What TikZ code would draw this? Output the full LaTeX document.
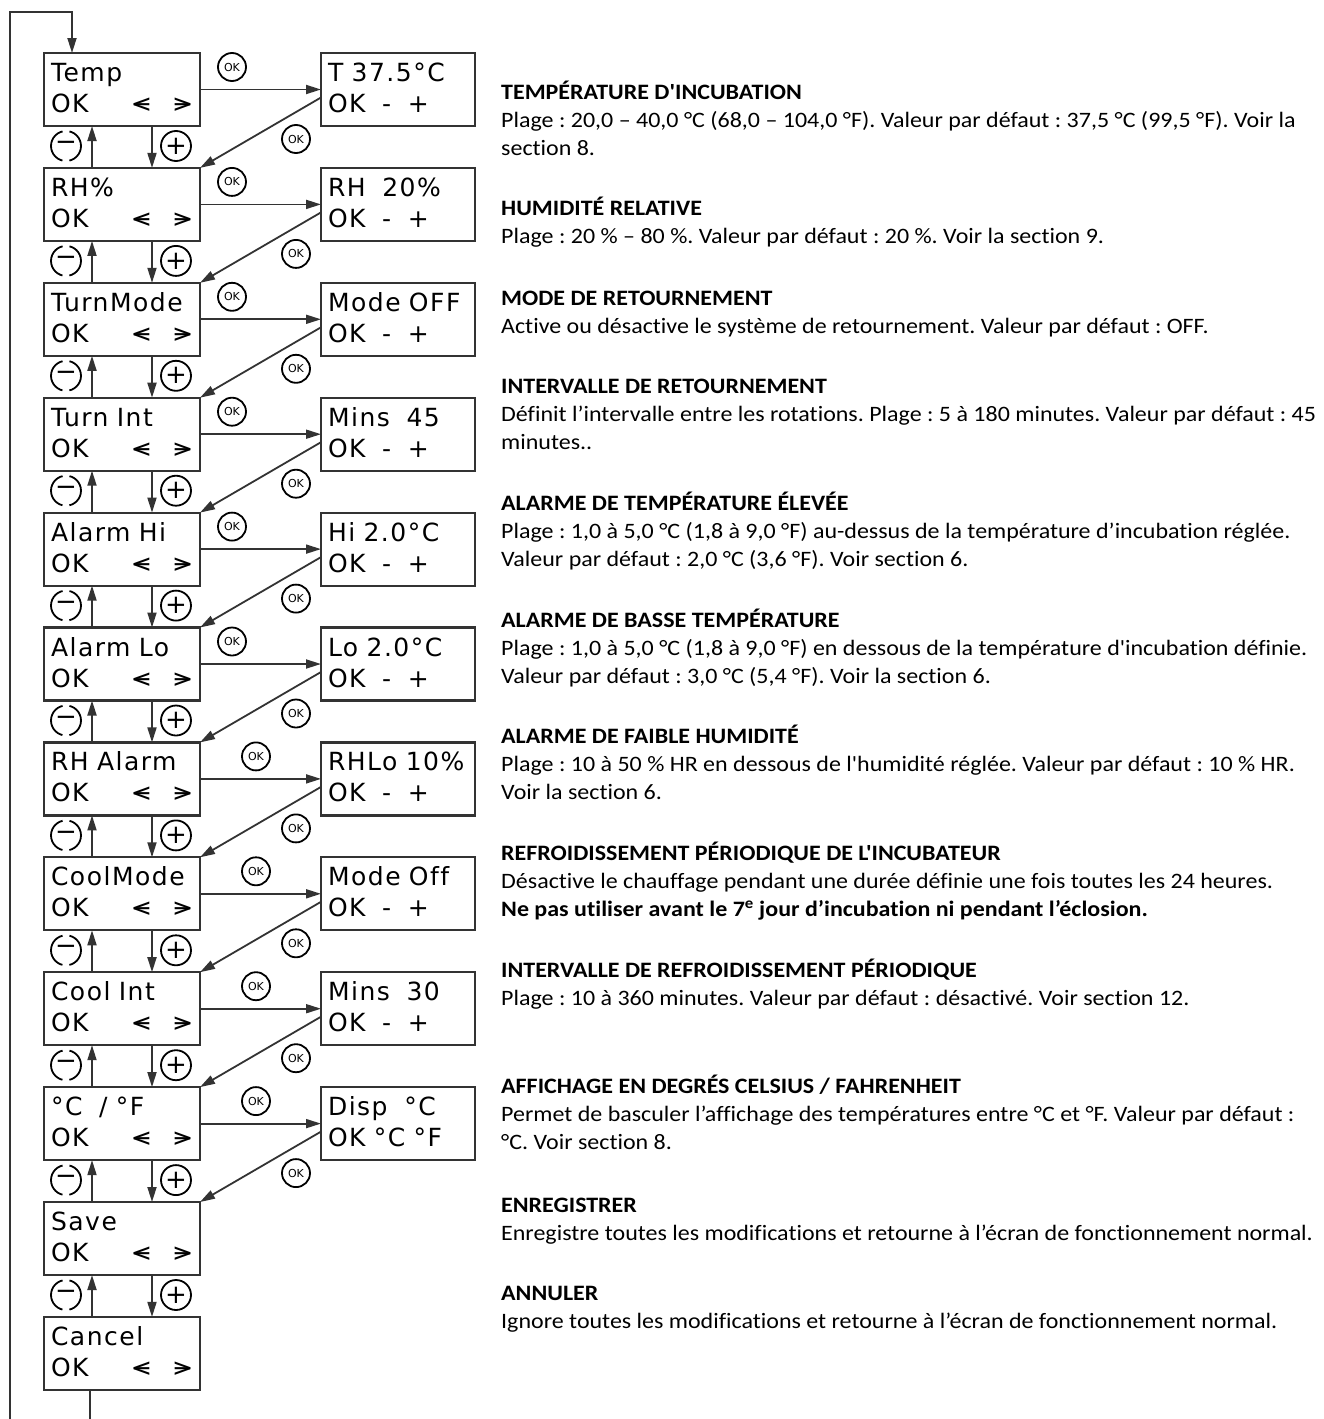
\documentclass[tikz,border=0pt]{standalone}
\usepackage{fontspec}
\newfontfamily\lcdfont{DejaVu Sans}[LetterSpace=6, Ligatures=CommonOff]
\newfontfamily\keyfont{DejaVu Sans}
\newfontfamily\descfont{Carlito}[FakeStretch=1.09, Ligatures=CommonOff]
\usetikzlibrary{arrows.meta,positioning}
\definecolor{frame}{HTML}{333333}
\newcommand\lcdstrut{\rule[-6pt]{0pt}{27pt}}
\newcommand\leftkey{\makebox[0pt][l]{<}−}
\newcommand\rightkey{\makebox[0pt][l]{−}>}
\newcommand\navline{OK\hfill\leftkey\hspace{20pt}\rightkey}
\newcommand\setline{OK\ \ -\ \ +}
\tikzset{
  menu/.style = {draw=frame, line width=2.2pt, rectangle, outer sep=0pt, minimum width=156pt, minimum height=73pt, text width=142pt, inner xsep=7pt, inner ysep=7pt, align=left, font=\lcdfont\fontsize{25}{31}\selectfont, execute at begin node=\lcdstrut, execute at end node=\lcdstrut},
  value/.style = {menu, minimum width=154pt, text width=140pt},
  okbtn/.style = {draw=black, line width=1.8pt, circle, minimum size=28pt, inner sep=0pt, font=\keyfont\fontsize{11}{11}\selectfont},
  plusbtn/.style = {draw=black, line width=1.8pt, circle, minimum size=30pt, inner sep=0pt, font=\keyfont\fontsize{26}{26}\selectfont},
  minusbtn/.style = {plusbtn, dash pattern=on 40pt off 7pt, dash phase=20pt},
  desc/.style = {anchor=base west, inner sep=0pt, align=left, font=\descfont\fontsize{22}{28}\selectfont},
  arrow/.style = {line width=1.8pt, draw=frame, -{Triangle[length=15pt,width=9pt]}}
}
\begin{document}
\frenchspacing
\begin{tikzpicture}[x=1pt, y=-1pt]
  \useasboundingbox (0,0) rectangle (1323,1419);

  % menu column
  \node[menu, anchor=north west] (temp) at (44,53) {Temp\\\navline};
  \node[menu, below=41.9pt of temp] (rh) {RH\%\\\navline};
  \node[menu, below=41.9pt of rh] (turnmode) {TurnMode\\\navline};
  \node[menu, below=41.9pt of turnmode] (turnint) {Turn Int\\\navline};
  \node[menu, below=41.9pt of turnint] (alarmhi) {Alarm Hi\\\navline};
  \node[menu, below=41.9pt of alarmhi] (alarmlo) {Alarm Lo\\\navline};
  \node[menu, below=41.9pt of alarmlo] (rhalarm) {RH Alarm\\\navline};
  \node[menu, below=41.9pt of rhalarm] (coolmode) {CoolMode\\\navline};
  \node[menu, below=41.9pt of coolmode] (coolint) {Cool Int\\\navline};
  \node[menu, below=41.9pt of coolint] (unit) {°C\ \ /\ °F\\\navline};
  \node[menu, below=41.9pt of unit] (save) {Save\\\navline};
  \node[menu, below=41.9pt of save] (cancel) {Cancel\\\navline};

  % value screens
  \node[value, right=121pt of temp] (temp-v) {T 37.5°C\\\setline};
  \node[value, right=121pt of rh] (rh-v) {RH\ \ 20\%\\\setline};
  \node[value, right=121pt of turnmode] (turnmode-v) {Mode OFF\\\setline};
  \node[value, right=121pt of turnint] (turnint-v) {Mins\ \ 45\\\setline};
  \node[value, right=121pt of alarmhi] (alarmhi-v) {Hi 2.0°C\\\setline};
  \node[value, right=121pt of alarmlo] (alarmlo-v) {Lo 2.0°C\\\setline};
  \node[value, right=121pt of rhalarm] (rhalarm-v) {RHLo 10\%\\\setline};
  \node[value, right=121pt of coolmode] (coolmode-v) {Mode Off\\\setline};
  \node[value, right=121pt of coolint] (coolint-v) {Mins\ \ 30\\\setline};
  \node[value, right=121pt of unit] (unit-v) {Disp\ \ °C\\OK °C °F};

  % - / + keys between screens
  \foreach \a/\b in {temp/rh, rh/turnmode, turnmode/turnint, turnint/alarmhi, alarmhi/alarmlo, alarmlo/rhalarm, rhalarm/coolmode, coolmode/coolint, coolint/unit, unit/save, save/cancel} {
    \draw[arrow] ([xshift=108pt]\a.south west) -- ([xshift=108pt]\b.north west);
    \draw[arrow] ([xshift=48pt]\b.north west) -- ([xshift=48pt]\a.south west);
    \node[minusbtn] (minus-\a) at ([xshift=22pt, yshift=-20pt]\a.south west) {−};
    \node[plusbtn] (plus-\a) at ([xshift=132pt, yshift=-20pt]\a.south west) {+};
  }

  % OK into the value screen and back
  \foreach \a/\b/\s in {temp/rh/32pt, rh/turnmode/32pt, turnmode/turnint/32pt, turnint/alarmhi/32pt, alarmhi/alarmlo/32pt, alarmlo/rhalarm/32pt, rhalarm/coolmode/56pt, coolmode/coolint/56pt, coolint/unit/56pt, unit/save/56pt} {
    \draw[arrow] (\a.east) -- (\a-v.west);
    \draw[arrow] ([yshift=-8pt]\a-v.west) -- (\b.north east);
    \node[okbtn] (ok-\a) at ([xshift=\s, yshift=-14pt]\a.north east) {OK};
    \node[okbtn] (back-\a) at ([xshift=-25pt, yshift=-13pt]\a-v.south west) {OK};
  }

  % wrap round from Cancel to Temp
  \coordinate (exit) at (90,1419);
  \coordinate (ret) at (10,1419);
  \coordinate (corner) at (10,12);
  \draw[line width=1.8pt, draw=frame] (cancel.south -| exit) -- (exit);
  \draw[arrow] (ret) -- (corner) -| ([xshift=28pt]temp.north west);

  % descriptions (anchored on the last line)
  \node[desc] (d-temp) at (501,155) {\textbf{TEMPÉRATURE D'INCUBATION}\\Plage : 20,0 – 40,0 °C (68,0 – 104,0 °F). Valeur par défaut : 37,5 °C (99,5 °F). Voir la\\section 8.};
  \node[desc] (d-rh) at (501,243) {\textbf{HUMIDITÉ RELATIVE}\\Plage : 20 \% – 80 \%. Valeur par défaut : 20 \%. Voir la section 9.};
  \node[desc] (d-turnmode) at (501,333) {\textbf{MODE DE RETOURNEMENT}\\Active ou désactive le système de retournement. Valeur par défaut : OFF.};
  \node[desc] (d-turnint) at (501,449) {\textbf{INTERVALLE DE RETOURNEMENT}\\Définit l’intervalle entre les rotations. Plage : 5 à 180 minutes. Valeur par défaut : 45\\minutes..};
  \node[desc] (d-alarmhi) at (501,566) {\textbf{ALARME DE TEMPÉRATURE ÉLEVÉE}\\Plage : 1,0 à 5,0 °C (1,8 à 9,0 °F) au-dessus de la température d’incubation réglée.\\Valeur par défaut : 2,0 °C (3,6 °F). Voir section 6.};
  \node[desc] (d-alarmlo) at (501,683) {\textbf{ALARME DE BASSE TEMPÉRATURE}\\Plage : 1,0 à 5,0 °C (1,8 à 9,0 °F) en dessous de la température d'incubation définie.\\Valeur par défaut : 3,0 °C (5,4 °F). Voir la section 6.};
  \node[desc] (d-rhalarm) at (501,799) {\textbf{ALARME DE FAIBLE HUMIDITÉ}\\Plage : 10 à 50 \% HR en dessous de l'humidité réglée. Valeur par défaut : 10 \% HR.\\Voir la section 6.};
  \node[desc] (d-coolmode) at (501,916) {\textbf{REFROIDISSEMENT PÉRIODIQUE DE L'INCUBATEUR}\\Désactive le chauffage pendant une durée définie une fois toutes les 24 heures.\\\textbf{Ne pas utiliser avant le 7\textsuperscript{e} jour d’incubation ni pendant l’éclosion.}};
  \node[desc] (d-coolint) at (501,1005) {\textbf{INTERVALLE DE REFROIDISSEMENT PÉRIODIQUE}\\Plage : 10 à 360 minutes. Valeur par défaut : désactivé. Voir section 12.};
  \node[desc] (d-unit) at (501,1149) {\textbf{AFFICHAGE EN DEGRÉS CELSIUS / FAHRENHEIT}\\Permet de basculer l’affichage des températures entre °C et °F. Valeur par défaut :\\°C. Voir section 8.};
  \node[desc] (d-save) at (501,1240) {\textbf{ENREGISTRER}\\Enregistre toutes les modifications et retourne à l’écran de fonctionnement normal.};
  \node[desc] (d-cancel) at (501,1328) {\textbf{ANNULER}\\Ignore toutes les modifications et retourne à l’écran de fonctionnement normal.};
\end{tikzpicture}
\end{document}
